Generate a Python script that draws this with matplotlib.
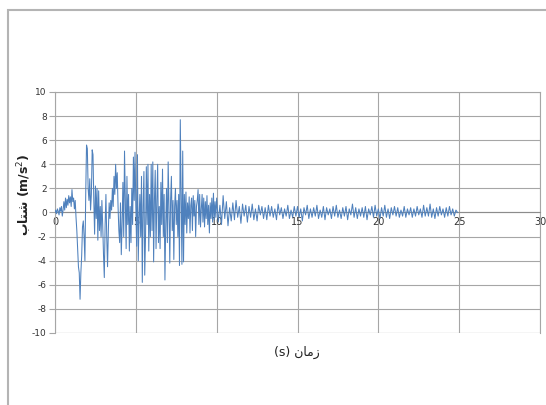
import numpy as np
import matplotlib
matplotlib.use("Agg")
import matplotlib.pyplot as plt
from matplotlib.patches import Rectangle

plt.rcParams["axes.unicode_minus"] = False

# ---- data ----
dt_strong = 0.05   # s, 0 - 10 s
acc_strong = [
    0, 0.2, -0.1, 0.3, 0.1, -0.2, 0.4, 0.1, 0.5, -0.3, 0.2, 0.9, 0.2, 1.2, 0.4, 1.1, 0.6, 1.4, 0.8, 1.3,
    0.5, 1.9, 0.9, 1.2, 0.3, 1.0, -0.4, -1.5, -3.0, -4.5, -5.0, -7.2, -5.0, -3.6, -1.2, -0.7, -2.0, -4.0, 1.5, 5.6,
    5.3, 2.0, 1.0, 2.8, 0.2, 1.5, 5.2, 4.8, 1.0, -1.8, 2.2, -0.5, 2.0, -2.3, 1.8, -1.5, 0.5, -2.0, 1.0, -1.0,
    -3.5, -5.4, -1.0, 1.5, -2.0, -4.5, -1.5, 0.8, -0.5, 1.0, 0.2, 2.0, 0.5, 3.0, 1.5, 4.0, 2.0, 3.3, 0.5, -1.5,
    -2.5, 0.8, -3.5, -1.0, 2.5, -2.0, 5.1, 1.0, -3.0, 3.0, -1.0, 1.5, -3.2, 0.5, -2.5, 2.0, -1.0, 4.6, 1.0, 5.0,
    0.5, -2.8, 4.8, -4.0, -0.5, 1.5, -2.0, 3.0, -5.8, 0.5, 3.4, -5.2, -2.0, 3.8, -1.0, 4.0, -3.2, 1.5, -2.0, 4.0,
    -1.5, 4.2, -4.1, 1.0, 3.5, -3.0, 1.0, 4.0, -2.5, 0.5, -3.0, 2.5, -1.0, 3.6, -2.0, 1.5, -5.6, -1.0, 2.0, -2.5,
    4.2, 0.5, -4.2, 1.0, 3.0, -1.5, 1.0, -3.9, 0.5, 2.0, -1.0, 1.0, -2.0, 1.5, -4.4, 7.7, 2.0, -4.3, 5.1, -4.1,
    1.5, -1.0, 1.7, -1.7, 0.8, -0.5, 1.3, -1.7, 0.6, 1.2, -1.5, 1.4, -0.3, 1.0, -2.0, 0.5, 1.0, 1.9, -1.0, 1.5,
    -1.2, 0.3, 1.5, -0.8, 1.2, -1.2, 0.9, -0.5, 1.4, -1.0, 0.6, -1.7, 0.8, -0.5, 1.2, -0.8, 1.6, -0.6, 0.9, -0.4,
]
tail_start = 10.0
dt_tail = 0.1      # s, 10 - 25 s
acc_tail = [
    1.2, -0.8, 0.6, -1.0, 1.4, -0.5, 0.9, -1.1, 0.4, -0.7,
    0.8, -0.6, 1.0, -0.4, 0.5, -0.9, 0.7, -0.3, 0.6, -0.8,
    0.5, -0.4, 0.7, -0.6, 0.3, -0.7, 0.6, -0.2, 0.5, -0.5,
    0.4, -0.6, 0.6, -0.3, 0.5, -0.4, 0.3, -0.6, 0.7, -0.2,
    0.4, -0.5, 0.3, -0.3, 0.6, -0.5, 0.2, -0.4, 0.5, -0.3,
    0.5, -0.4, 0.3, -0.7, 0.4, -0.2, 0.6, -0.5, 0.3, -0.4,
    0.4, -0.3, 0.6, -0.5, 0.2, -0.4, 0.5, -0.6, 0.4, -0.2,
    0.3, -0.5, 0.5, -0.3, 0.6, -0.4, 0.2, -0.5, 0.4, -0.3,
    0.5, -0.6, 0.3, -0.2, 0.7, -0.4, 0.4, -0.5, 0.3, -0.3,
    0.4, -0.4, 0.5, -0.6, 0.3, -0.2, 0.5, -0.4, 0.6, -0.3,
    0.3, -0.5, 0.4, -0.3, 0.6, -0.4, 0.3, -0.5, 0.4, -0.2,
    0.5, -0.3, 0.4, -0.4, 0.2, -0.3, 0.5, -0.4, 0.3, -0.2,
    0.4, -0.4, 0.3, -0.3, 0.5, -0.2, 0.3, -0.4, 0.6, -0.3,
    0.4, -0.3, 0.7, -0.4, 0.3, -0.5, 0.4, -0.3, 0.5, -0.2,
    0.3, -0.4, 0.4, -0.3, 0.5, -0.2, 0.3, -0.3, 0.2, 0.0,
]
x_ticks = [0, 5, 10, 15, 20, 25, 30]
y_ticks = [-10, -8, -6, -4, -2, 0, 2, 4, 6, 8, 10]
x_label = "(s) ﻥﺎﻣﺯ"
y_label = "ﺏﺎﺘﺷ (m/s$^2$)"

# ---- build series ----
t_strong = np.arange(len(acc_strong)) * dt_strong
t_tail = tail_start + np.arange(len(acc_tail)) * dt_tail
t = np.concatenate([t_strong, t_tail])
acc = np.concatenate([acc_strong, acc_tail])

W, H = 546, 405
fig = plt.figure(figsize=(W / 100, H / 100), dpi=100)
fig.patch.set_facecolor("white")

# outer chart frame (left and top edges visible)
fig.patches.append(Rectangle((8 / W, -0.05), 1.5, 1 - 10 / H + 0.05,
                             transform=fig.transFigure, fill=False,
                             edgecolor="#b4b4b4", linewidth=1.5))

ax = fig.add_axes([55 / W, 1 - 333 / H, (540 - 55) / W, (333 - 92) / H])
grid_c = "#a6a6a6"
ax.plot(t, acc, color="#4f81bd", linewidth=0.75, zorder=3)
ax.set_xlim(0, 30)
ax.set_ylim(-10, 10)
ax.set_xticks(x_ticks)
ax.set_yticks(y_ticks)
ax.grid(True, color=grid_c, linewidth=0.8)
ax.set_axisbelow(True)
for s in ["top", "right", "left", "bottom"]:
    ax.spines[s].set_color(grid_c)
    ax.spines[s].set_linewidth(0.8)
ax.spines["bottom"].set_position(("data", 0))
ax.spines["bottom"].set_color("#8c8c8c")
ax.axhline(-10, color=grid_c, linewidth=0.8, zorder=1)
ax.tick_params(axis="x", length=0, pad=3, labelsize=7, labelcolor="#333333")
ax.tick_params(axis="y", length=4, width=0.8, color=grid_c, pad=2,
               labelsize=6.5, labelcolor="#333333")

fig.text(297 / W, 1 - 352 / H, x_label, ha="center", va="center",
         fontsize=9, family="DejaVu Sans", color="#222222")
fig.text(25 / W, 1 - 195 / H, y_label, ha="center", va="center", rotation=90,
         fontsize=9, fontweight="bold", family="DejaVu Sans", color="#222222")

fig.savefig("out.png", dpi=100, facecolor="white")
